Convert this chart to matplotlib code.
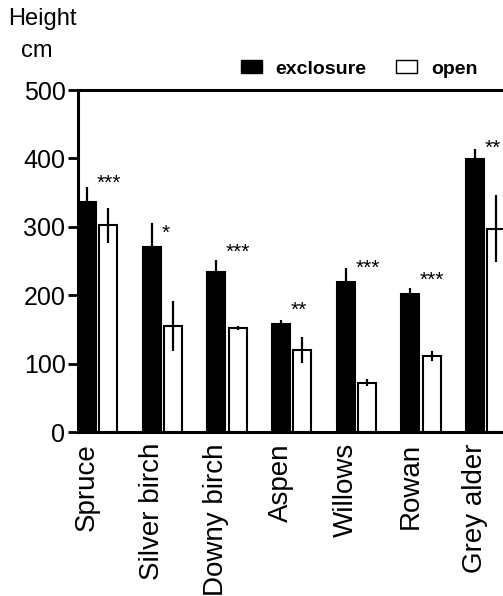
import matplotlib.pyplot as plt
import numpy as np
from matplotlib.patches import Patch

plt.rcParams['font.family'] = ['Liberation Sans', 'DejaVu Sans']

# data
species = ['Spruce', 'Silver birch', 'Downy birch', 'Aspen', 'Willows', 'Rowan', 'Grey alder']
exclosure = [336, 270, 234, 158, 219, 202, 399]
exclosure_err = [22, 35, 17, 6, 21, 8, 15]
open_ = [302, 155, 152, 120, 72, 111, 297]
open_err = [25, 36, 3, 19, 5, 7, 49]
stars = ['***', '*', '***', '**', '***', '***', '**']
star_y = [364, 291, 263, 178, 240, 222, 415]

fig = plt.figure(figsize=(5.03, 5.96), dpi=100)
ax_left = 78 / 503
ax_right = 1.05
ax = fig.add_axes([ax_left, 1 - 432 / 596, ax_right - ax_left, (432 - 90) / 596])

x = np.arange(len(species))
w = 0.28
off = 0.165
ax.bar(x - off, exclosure, w, color='black', edgecolor='black', linewidth=1.5)
ax.bar(x + off, open_, w, color='white', edgecolor='black', linewidth=1.5)
ax.errorbar(x - off, exclosure, yerr=exclosure_err, fmt='none', ecolor='black', elinewidth=1.6, capsize=0)
ax.errorbar(x + off, open_, yerr=open_err, fmt='none', ecolor='black', elinewidth=1.6, capsize=0)

for i in range(len(species)):
    ax.text(x[i] - off + w / 2 + 0.01, star_y[i], stars[i], fontsize=15,
            ha='left', va='center')

# one group = 64.67 px
span = (ax_right - ax_left) * 503 / 64.67
ax.set_xlim(-0.305, -0.305 + span)
ax.set_ylim(0, 500)
ax.set_yticks([0, 100, 200, 300, 400, 500])
ax.tick_params(axis='y', labelsize=18, width=2, length=7, direction='out', pad=2)
ax.set_xticks(x - off)
ax.set_xticklabels(species, rotation=90, fontsize=20)
ax.tick_params(axis='x', length=0, pad=8)

for s in ['left', 'bottom', 'top']:
    ax.spines[s].set_linewidth(2.2)
ax.spines['right'].set_visible(False)

fig.text(42 / 503, 1 - 19 / 596, 'Height', fontsize=17, ha='center', va='center')
fig.text(37 / 503, 1 - 51 / 596, 'cm', fontsize=17, ha='center', va='center')

handles = [Patch(facecolor='black', edgecolor='black', linewidth=1),
           Patch(facecolor='white', edgecolor='black', linewidth=1)]
leg = fig.legend(handles, ['exclosure', 'open'], ncol=2, frameon=False,
                 loc='center', bbox_to_anchor=(359 / 503, 1 - 69 / 596),
                 prop={'weight': 'bold', 'size': 14},
                 handlelength=1.1, handleheight=0.65, handletextpad=0.7, columnspacing=1.5)

plt.savefig('out.png', dpi=100)
